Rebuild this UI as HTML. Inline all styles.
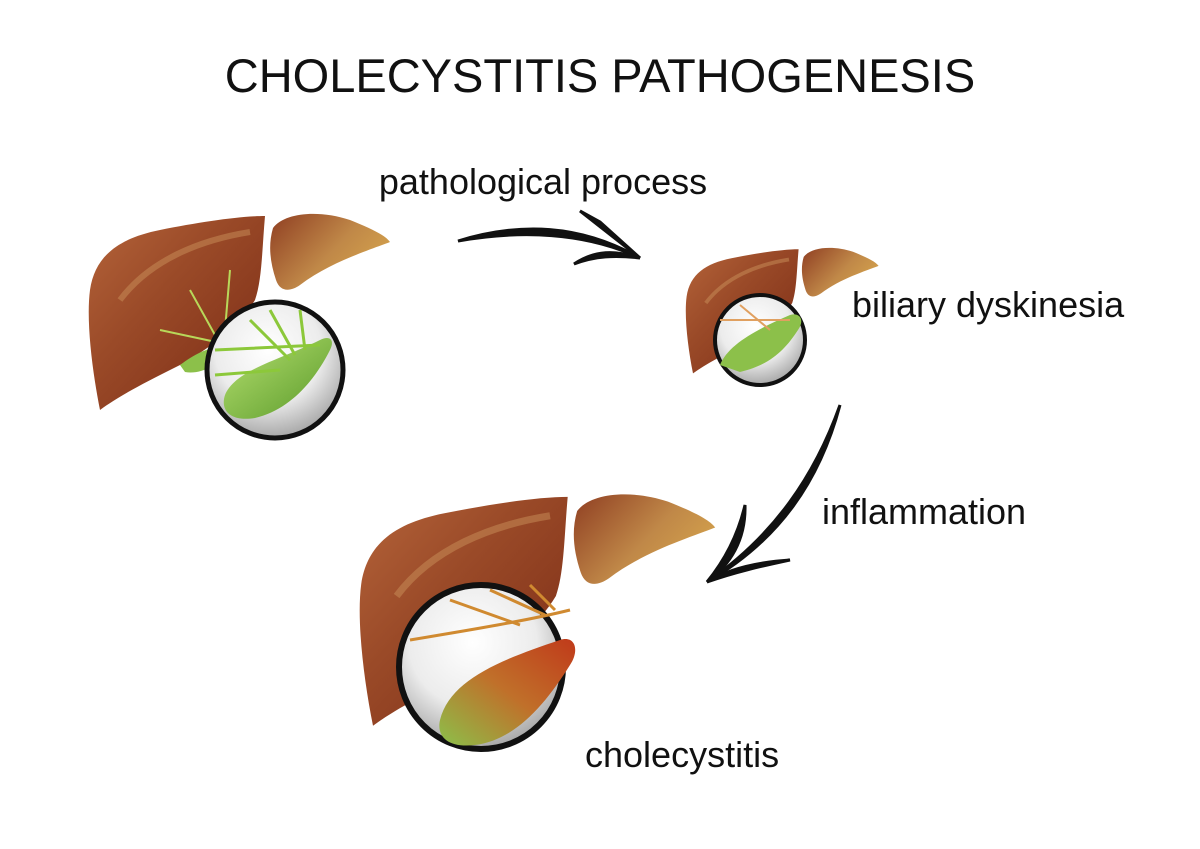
<!DOCTYPE html>
<html><head><meta charset="utf-8"><style>
html,body{margin:0;padding:0;background:#fff;}
svg{display:block;}
text{font-family:"Liberation Sans",sans-serif;fill:#111;}
</style></head><body>
<svg width="1200" height="849" viewBox="0 0 1200 849" xmlns="http://www.w3.org/2000/svg">
<defs>
<linearGradient id="lv" x1="0" y1="0" x2="1" y2="1">
<stop offset="0" stop-color="#b5643a"/><stop offset="0.4" stop-color="#9a4a28"/><stop offset="1" stop-color="#7a2a14"/>
</linearGradient>
<linearGradient id="lv2" x1="0" y1="0" x2="1" y2="0.6">
<stop offset="0" stop-color="#8f3e22"/><stop offset="0.6" stop-color="#c08848"/><stop offset="1" stop-color="#d4a24c"/>
</linearGradient>
<radialGradient id="gl" cx="0.45" cy="0.35" r="0.65">
<stop offset="0" stop-color="#ffffff"/><stop offset="0.6" stop-color="#ececec"/><stop offset="1" stop-color="#a8a8a8"/>
</radialGradient>
<linearGradient id="gb" x1="0" y1="0" x2="1" y2="1">
<stop offset="0" stop-color="#b6e070"/><stop offset="1" stop-color="#5a9a2a"/>
</linearGradient>
<linearGradient id="gb3" x1="0" y1="1" x2="1" y2="0">
<stop offset="0" stop-color="#8cc04a"/><stop offset="0.5" stop-color="#c0702a"/><stop offset="1" stop-color="#c03a1a"/>
</linearGradient>
<g id="liver">
<path d="M100,410 C92,370 86,320 90,290 C95,255 120,238 160,230 C200,222 240,216 265,216 C262,250 262,280 255,300 C240,325 215,345 180,365 C150,380 120,395 100,410 Z" fill="url(#lv)"/>
<path d="M120,300 C150,260 200,240 250,232" stroke="#c9905a" stroke-width="6" fill="none" opacity="0.5"/>
<path d="M273,228 C285,212 320,210 350,220 C370,228 385,235 390,242 C370,250 330,262 300,285 C290,292 280,292 276,280 C270,262 268,245 273,228 Z" fill="url(#lv2)"/>
</g>
</defs>

<text x="600" y="92" font-size="47" text-anchor="middle">CHOLECYSTITIS PATHOGENESIS</text>
<text x="543" y="194" font-size="36" text-anchor="middle">pathological process</text>
<text x="852" y="317" font-size="36">biliary dyskinesia</text>
<text x="822" y="524" font-size="36">inflammation</text>
<text x="585" y="767" font-size="36">cholecystitis</text>

<!-- liver 1 -->
<use href="#liver"/>
<path d="M180,365 C200,350 215,345 225,350 C220,365 200,375 185,372 Z" fill="#8cc04a"/>
<path d="M190,290 L215,335 M230,270 L225,330 M160,330 L230,345" stroke="#b8d85a" stroke-width="2" fill="none"/>
<circle cx="275" cy="370" r="68" fill="url(#gl)" stroke="#111" stroke-width="5"/>
<path d="M225,395 C235,370 280,360 320,340 C330,335 335,340 330,350 C315,380 290,410 255,418 C230,422 220,410 225,395 Z" fill="url(#gb)"/>
<path d="M215,350 L320,345 M250,320 L290,360 M270,310 L295,355 M300,310 L305,350 M215,375 L280,370" stroke="#8cc83a" stroke-width="3" fill="none"/>

<!-- liver 2 -->
<use href="#liver" transform="translate(629,111) scale(0.64)"/>
<circle cx="760" cy="340" r="45" fill="url(#gl)" stroke="#111" stroke-width="4"/>
<path d="M720,365 C728,345 755,330 790,315 C800,312 805,320 798,330 C785,350 770,365 740,372 Z" fill="#8cc04a"/>
<path d="M720,320 L790,320 M740,305 L770,330" stroke="#e0a060" stroke-width="2" fill="none"/>

<!-- liver 3 -->
<use href="#liver" transform="translate(255,242) scale(1.18)"/>
<circle cx="481" cy="667" r="82" fill="url(#gl)" stroke="#111" stroke-width="6"/>
<path d="M440,720 C450,680 500,660 560,640 C575,635 580,650 570,665 C545,705 515,740 475,745 C450,748 436,738 440,720 Z" fill="url(#gb3)"/>
<path d="M410,640 C470,630 530,620 570,610 M450,600 L520,625 M490,590 L545,615 M530,585 L555,610" stroke="#d08a30" stroke-width="3" fill="none"/>

<!-- arrow 1 -->
<path d="M458,241 C520,222 580,224 640,258 C585,232 520,230 458,241 Z" fill="#111" stroke="#111" stroke-width="3"/>
<path d="M580,211 L640,258 L600,222 Z" fill="#111" stroke="#111" stroke-width="3"/>
<path d="M574,264 C595,250 615,250 640,258 C615,255 595,256 574,264 Z" fill="#111" stroke="#111" stroke-width="3"/>

<!-- arrow 2 -->
<path d="M840,405 C820,480 780,540 707,582 C775,535 815,475 840,405 Z" fill="#111" stroke="#111" stroke-width="3"/>
<path d="M745,505 C746,540 730,565 707,582 C725,560 738,535 745,505 Z" fill="#111" stroke="#111" stroke-width="3"/>
<path d="M790,560 C760,562 730,568 707,582 C735,572 762,566 790,560 Z" fill="#111" stroke="#111" stroke-width="3"/>
</svg>
</body></html>
